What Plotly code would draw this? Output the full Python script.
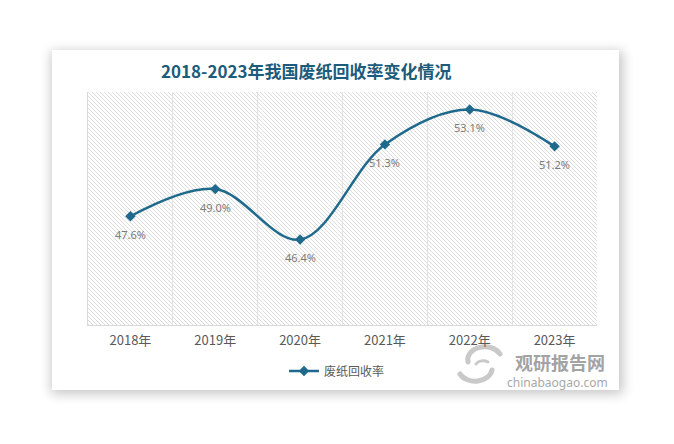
import base64
import plotly.graph_objects as go

# ---- data ----
years = ["2018年", "2019年", "2020年", "2021年", "2022年", "2023年"]
recovery_rate = [47.6, 49.0, 46.4, 51.3, 53.1, 51.2]
rate_labels = ["47.6%", "49.0%", "46.4%", "51.3%", "53.1%", "51.2%"]
series_name = "废纸回收率"
title_text = "2018-2023年我国废纸回收率变化情况"

W, H = 674, 444
L, R, T, B = 88, 77, 92, 119
PW, PH = W - L - R, H - T - B


def px(x):
    return (x - L) / PW


def py(y):
    return (H - B - y) / PH


# background: card with soft shadow + hatched plot area (decoration only)
svg = f'''<svg xmlns="http://www.w3.org/2000/svg" width="{W}" height="{H}" viewBox="0 0 {W} {H}">
<defs>
<filter id="s" x="-20%" y="-20%" width="140%" height="140%"><feGaussianBlur stdDeviation="6"/></filter>
<pattern id="h" width="4" height="4" patternUnits="userSpaceOnUse">
<path d="M-1,-1 L5,5 M-1,3 L1,5 M3,-1 L5,1" stroke="#d8d8d8" stroke-width="0.9" fill="none"/>
</pattern>
</defs>
<rect x="0" y="0" width="{W}" height="{H}" fill="#ffffff"/>
<rect x="51" y="51" width="572" height="343" fill="#000000" opacity="0.22" filter="url(#s)"/>
<rect x="52" y="50" width="567" height="340" fill="#ffffff"/>
<rect x="{L}" y="{T}" width="{PW}" height="{PH}" fill="url(#h)"/>
<g fill="none" stroke="#c9c9c9" stroke-linecap="round">
<path d="M468,362 A17,13 0 0 1 500,354" stroke-width="5"/>
<path d="M492,370 A17,13 0 0 1 460,374" stroke-width="5"/>
<path d="M476,364 A8,6 0 0 1 488,362" stroke-width="3"/>
</g>
</svg>'''
svg_uri = "data:image/svg+xml;base64," + base64.b64encode(svg.encode("utf-8")).decode("ascii")

line_color = "#1f6a8c"

fig = go.Figure()
fig.add_trace(go.Scatter(
    x=years,
    y=recovery_rate,
    name=series_name,
    mode="lines+markers",
    line=dict(color=line_color, width=2.5, shape="spline", smoothing=1.0),
    marker=dict(symbol="diamond", size=8, color=line_color),
    cliponaxis=False,
    hoverinfo="x+y",
))

label_annotations = [
    dict(x=yr, y=val, xref="x", yref="y", text=lab, showarrow=False,
         yshift=-18, xanchor="center", yanchor="middle",
         font=dict(family="Noto Sans, Noto Sans CJK SC, sans-serif", size=11, color="#7a7a7a"))
    for yr, val, lab in zip(years, recovery_rate, rate_labels)
]

fig.update_layout(
    width=W,
    height=H,
    margin=dict(l=L, r=R, t=T, b=B, pad=0),
    paper_bgcolor="#ffffff",
    plot_bgcolor="rgba(0,0,0,0)",
    font=dict(family="Noto Sans CJK SC, Noto Sans, sans-serif", color="#595959"),
    showlegend=True,
    legend=dict(
        orientation="h",
        x=px(284), xanchor="left",
        y=py(371), yanchor="middle",
        font=dict(size=12, color="#595959", family="Noto Sans CJK SC, sans-serif"),
        bgcolor="rgba(0,0,0,0)",
        itemwidth=30,
    ),
    images=[dict(
        source=svg_uri,
        xref="paper", yref="paper",
        x=px(0), y=py(0),
        sizex=W / PW, sizey=H / PH,
        xanchor="left", yanchor="top",
        sizing="stretch",
        layer="below",
    )],
    annotations=label_annotations + [
        dict(text="<b>" + title_text + "</b>", xref="paper", yref="paper",
             x=px(306), y=py(71), xanchor="center", yanchor="middle", showarrow=False,
             font=dict(size=17, color="#1b5c7c", family="Noto Sans CJK SC, sans-serif")),
        dict(text="<b>观研报告网</b>", xref="paper", yref="paper",
             x=px(560), y=py(362), xanchor="center", yanchor="middle", showarrow=False,
             font=dict(size=18, color="#a3a3a3", family="Noto Sans CJK SC, sans-serif")),
        dict(text="chinabaogao.com", xref="paper", yref="paper",
             x=px(557), y=py(382), xanchor="center", yanchor="middle", showarrow=False,
             font=dict(size=12, color="#a8a8a8", family="Noto Sans, sans-serif")),
    ],
)

fig.update_xaxes(
    type="category",
    range=[-0.5, len(years) - 0.5],
    tickson="boundaries",
    showgrid=True, gridcolor="#e3e3e3", gridwidth=1,
    showline=True, linecolor="#d9d9d9", linewidth=1,
    ticks="", ticklen=0,
    ticklabelstandoff=3,
    tickfont=dict(size=13, color="#595959", family="Noto Sans CJK SC, sans-serif"),
    zeroline=False,
)
fig.update_yaxes(
    range=[42, 54],
    showgrid=False, zeroline=False,
    showticklabels=False, ticks="",
    showline=True, linecolor="#d9d9d9", linewidth=1,
)

fig.write_html("out.html", config={"displayModeBar": False},
               post_script="document.body.style.margin='0';")
